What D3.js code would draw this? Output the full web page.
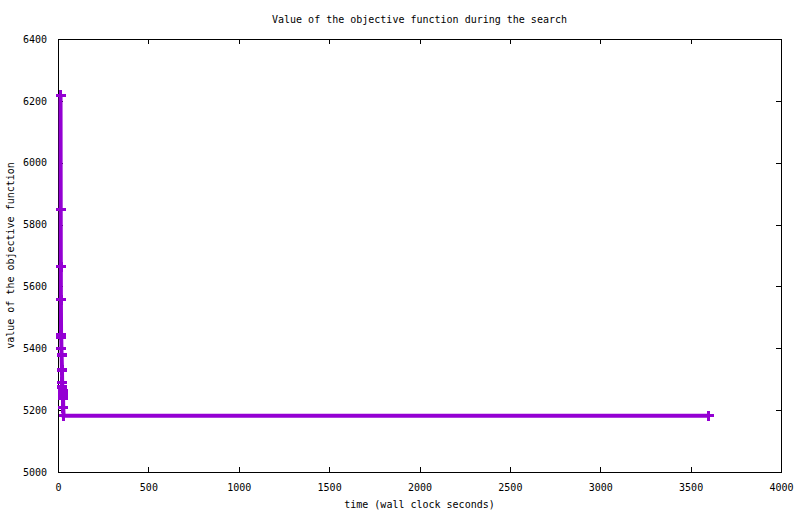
<!DOCTYPE html>
<html>
<head>
<meta charset="utf-8">
<script src="https://cdn.jsdelivr.net/npm/d3@7"></script>
<style>
  body { margin: 0; background: #fff; }
  text { font-family: "DejaVu Sans Mono", monospace; font-size: 10px; fill: #000; }
</style>
</head>
<body>
<div class="viz"></div>
<script>
// search trace (seconds, objective value)
const times = [14, 15, 15.5, 16, 17, 18, 19, 20, 22, 23, 24, 25, 27, 28, 29, 31, 3600];
const values = [6218, 5848, 5664, 5557, 5443, 5435, 5400, 5378, 5330, 5290, 5275, 5262, 5250, 5240, 5208, 5182, 5182];
const xTicks = [0, 500, 1000, 1500, 2000, 2500, 3000, 3500, 4000];
const yTicks = [5000, 5200, 5400, 5600, 5800, 6000, 6200, 6400];

const width = 800, height = 514;
const margin = { top: 39, right: 19, bottom: 42, left: 58 };
const color = "#9400d3";

const data = times.map((t, i) => ({ t, v: values[i] }));

const svg = d3.select(".viz")
  .append("svg")
  .attr("width", width)
  .attr("height", height);

const x = d3.scaleLinear()
  .domain([0, 4000])
  .range([margin.left, width - margin.right]);

const y = d3.scaleLinear()
  .domain([5000, 6400])
  .range([height - margin.bottom, margin.top]);

// ticks inside the frame on all four sides (gnuplot style)
const tickLen = 5;
const axes = svg.append("g").attr("shape-rendering", "crispEdges");

axes.append("g")
  .attr("transform", `translate(0, ${y(5000)})`)
  .call(d3.axisBottom(x).tickValues(xTicks).tickSize(-tickLen).tickPadding(tickLen + 7).tickFormat(d3.format("d")));
axes.append("g")
  .attr("transform", `translate(0, ${y(6400)})`)
  .call(d3.axisTop(x).tickValues(xTicks).tickSize(-tickLen).tickFormat(""));
axes.append("g")
  .attr("transform", `translate(${x(0)}, 0)`)
  .call(d3.axisLeft(y).tickValues(yTicks).tickSize(-tickLen).tickPadding(tickLen + 6).tickFormat(d3.format("d")));
axes.append("g")
  .attr("transform", `translate(${x(4000)}, 0)`)
  .call(d3.axisRight(y).tickValues(yTicks).tickSize(-tickLen).tickFormat(""));

axes.selectAll(".domain").attr("stroke", "#000");
axes.selectAll(".tick line").attr("stroke", "#000");
axes.selectAll(".tick text").style("font-family", "DejaVu Sans Mono").style("font-size", "10px");

// the trace
const line = d3.line()
  .x(d => x(d.t))
  .y(d => y(d.v));

svg.append("path")
  .datum(data)
  .attr("fill", "none")
  .attr("stroke", color)
  .attr("stroke-width", 4)
  .attr("d", line);

const cross = 5;
const marks = svg.append("g")
  .attr("stroke", color)
  .attr("stroke-width", 3.5)
  .attr("shape-rendering", "crispEdges");

marks.selectAll("path.pt")
  .data(data)
  .join("path")
  .attr("class", "pt")
  .attr("d", d => {
    const px = x(d.t), py = y(d.v);
    return `M${px - cross},${py}H${px + cross}M${px},${py - cross}V${py + cross}`;
  });

// labels
svg.append("text")
  .attr("x", (x(0) + x(4000)) / 2)
  .attr("y", 23)
  .attr("text-anchor", "middle")
  .text("Value of the objective function during the search");

svg.append("text")
  .attr("x", (x(0) + x(4000)) / 2)
  .attr("y", 508)
  .attr("text-anchor", "middle")
  .text("time (wall clock seconds)");

svg.append("text")
  .attr("transform", `translate(14, ${(y(5000) + y(6400)) / 2}) rotate(-90)`)
  .attr("text-anchor", "middle")
  .text("value of the objective function");
</script>
</body>
</html>
